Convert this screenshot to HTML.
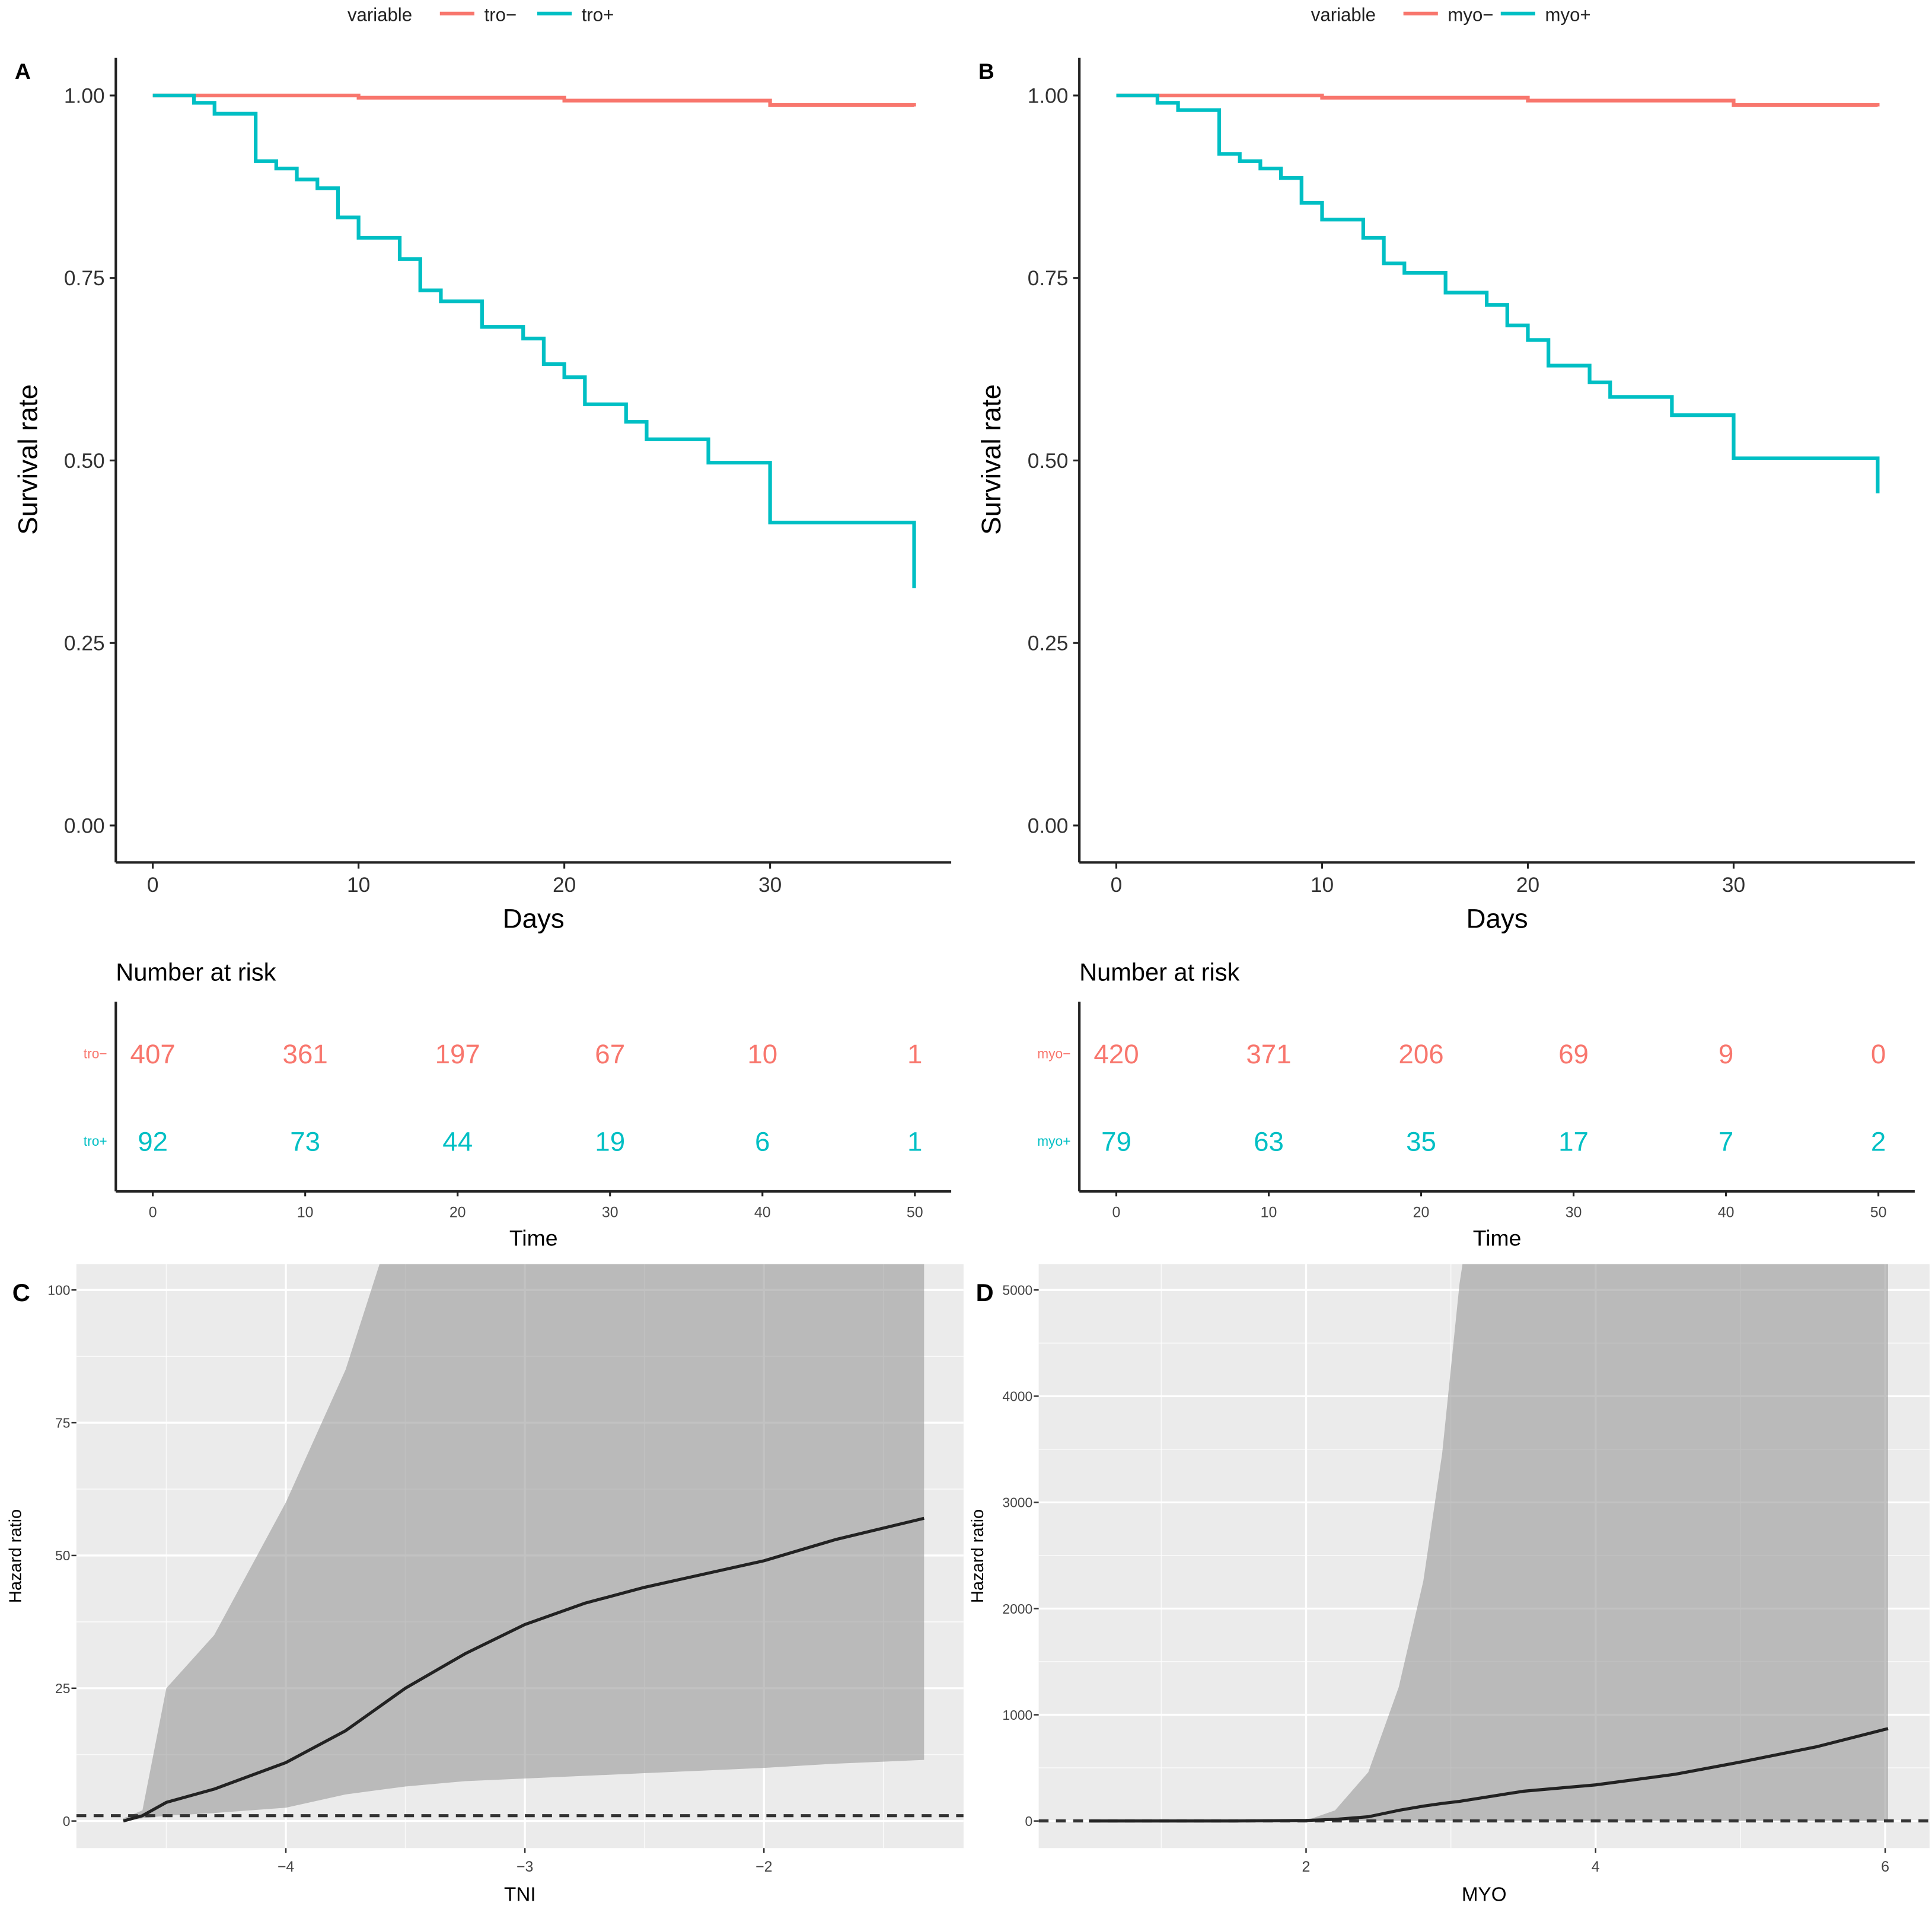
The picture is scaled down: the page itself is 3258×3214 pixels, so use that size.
<!DOCTYPE html>
<html><head><meta charset="utf-8"><style>
html,body{margin:0;padding:0;background:#fff;}
svg{display:block;font-family:"Liberation Sans",sans-serif;}
</style></head><body>
<svg id="fig" width="3258" height="3214" viewBox="0 0 1568 1547" preserveAspectRatio="none" xmlns="http://www.w3.org/2000/svg"></svg>
<script>
// ---- data ----
const kmTimesTroPos = [0,2,3,5,6,7,8,9,10,12,13,14,16,18,19,20,21,23,24,27,30,37];
const kmSurvTroPos  = [1,0.99,0.975,0.91,0.90,0.885,0.873,0.833,0.805,0.776,0.733,0.718,0.683,0.667,0.632,0.614,0.577,0.553,0.529,0.497,0.415,0.325];
const kmTimesTroNeg = [0,2,10,20,30,37];
const kmSurvTroNeg  = [1,1,0.997,0.993,0.987,0.985];
const kmTimesMyoPos = [0,2,3,5,6,7,8,9,10,12,13,14,16,18,19,20,21,23,24,27,30,37];
const kmSurvMyoPos  = [1,0.99,0.98,0.92,0.91,0.90,0.887,0.853,0.83,0.805,0.77,0.757,0.73,0.713,0.685,0.665,0.63,0.607,0.587,0.562,0.503,0.455];
const kmTimesMyoNeg = [0,2,10,20,30,37];
const kmSurvMyoNeg  = [1,1,0.997,0.993,0.987,0.985];
const yTicksKM = [0,0.25,0.5,0.75,1];
const yTickLabelsKM = ["0.00","0.25","0.50","0.75","1.00"];
const xTicksKM = [0,10,20,30];
const riskTimes = [0,10,20,30,40,50];
const riskTroNeg = [407,361,197,67,10,1];
const riskTroPos = [92,73,44,19,6,1];
const riskMyoNeg = [420,371,206,69,9,0];
const riskMyoPos = [79,63,35,17,7,2];
const tniX     = [-4.68,-4.6,-4.5,-4.3,-4.0,-3.75,-3.5,-3.25,-3.0,-2.75,-2.5,-2.25,-2.0,-1.7,-1.33];
const tniHR    = [0,1,3.5,6,11,17,25,31.5,37,41,44,46.5,49,53,57];
const tniUpper = [0.5,2,25,35,60,85,120,150,180,200,220,240,260,280,300];
const tniLower = [0,0.5,1,1.5,2.5,5,6.5,7.5,8,8.5,9,9.5,10,10.8,11.5];
const tniYTicks = [0,25,50,75,100];
const tniXTicks = [-4,-3,-2];
const myoX     = [0.5,1,1.5,2,2.2,2.43,2.64,2.81,2.94,3.06,3.5,4,4.55,5.02,5.53,6.02];
const myoHR    = [0,0,0,5,15,40,100,140,165,185,280,340,440,560,700,870];
const myoUpper = [0,0,0,5,100,460,1260,2260,3460,5060,9000,9000,9000,9000,9000,9000];
const myoLower = [0,0,0,0,0,0,0,0,0,0,0,0,0,0,0,0];
const myoYTicks = [0,1000,2000,3000,4000,5000];
const myoXTicks = [2,4,6];

const RED="#F8766D", CYAN="#00BFC4";
const svg=document.getElementById('fig');
const NS="http://www.w3.org/2000/svg";
function el(tag,attrs,parent){const e=document.createElementNS(NS,tag);for(const k in attrs)e.setAttribute(k,attrs[k]);(parent||svg).appendChild(e);return e;}
function txt(s,x,y,size,attrs,parent){const t=el('text',Object.assign({x:x,y:y,'font-size':size,fill:'#000'},attrs||{}),parent);t.textContent=s;return t;}

// ---- KM panels ----
function kmPanel(ox,letter,grpNeg,grpPos,tN,sN,tP,sP,rN,rP){
  const g=el('g',{});
  
  
  const xs=t=>ox+30+t*16.7, ys=v=>670-v*592.5;
  const lg=el('g',{},g);
  
  
  const lx=ox+188;
  txt('variable',lx,17,15,{fill:'#222'},lg);
  el('line',{x1:lx+75,x2:lx+103,y1:11,y2:11,stroke:RED,'stroke-width':3},lg);
  txt(grpNeg,lx+111,17,15,{fill:'#222'},lg);
  el('line',{x1:lx+154,x2:lx+182,y1:11,y2:11,stroke:CYAN,'stroke-width':3},lg);
  txt(grpPos,lx+190,17,15,{fill:'#222'},lg);
  txt(letter,ox-82,64,18,{'font-weight':'bold'},g);
  el('line',{x1:ox,x2:ox,y1:47,y2:700,stroke:'#222','stroke-width':2},g);
  el('line',{x1:ox,x2:ox+678,y1:700,y2:700,stroke:'#222','stroke-width':2},g);
  yTicksKM.forEach((v,i)=>{el('line',{x1:ox-5,x2:ox,y1:ys(v),y2:ys(v),stroke:'#222','stroke-width':1.5},g);
    txt(yTickLabelsKM[i],ox-9,ys(v)+6,17,{'text-anchor':'end',fill:'#333'},g);});
  xTicksKM.forEach(v=>{el('line',{x1:xs(v),x2:xs(v),y1:700,y2:705,stroke:'#222','stroke-width':1.5},g);
    txt(String(v),xs(v),724,17,{'text-anchor':'middle',fill:'#333'},g);});
  const yt=txt('Survival rate',0,0,22,{'text-anchor':'middle',transform:`translate(${ox-64},373) rotate(-90)`},g);
  
  txt('Days',ox+339,753,22,{'text-anchor':'middle'},g);
  function step(t,s,col,name){let d=`M${xs(t[0])},${ys(s[0])}`;for(let i=1;i<t.length;i++){d+=`H${xs(t[i])}V${ys(s[i])}`;}
    const p=el('path',{d:d,fill:'none',stroke:col,'stroke-width':3},g);}
  step(tN,sN,RED,'curve-'+grpNeg);
  step(tP,sP,CYAN,'curve-'+grpPos);
  const rx=t=>ox+30+t*12.37;
  txt('Number at risk',ox,796,20,{},g);
  el('line',{x1:ox,x2:ox,y1:813,y2:967,stroke:'#222','stroke-width':2},g);
  el('line',{x1:ox,x2:ox+678,y1:967,y2:967,stroke:'#222','stroke-width':2},g);
  [[855,grpNeg,RED,rN],[926,grpPos,CYAN,rP]].forEach(([y,lab,col,vals])=>{
    txt(lab,ox-7,y+4,11,{'text-anchor':'end',fill:col},g);
    vals.forEach((v,i)=>{const t=txt(String(v),rx(riskTimes[i]),y+8,22,{'text-anchor':'middle',fill:col},g);});
  });
  riskTimes.forEach(v=>{el('line',{x1:rx(v),x2:rx(v),y1:967,y2:971,stroke:'#222','stroke-width':1.5},g);
    txt(String(v),rx(v),988,12,{'text-anchor':'middle',fill:'#444'},g);});
  txt('Time',ox+339,1011,18,{'text-anchor':'middle'},g);
}
kmPanel(94,'A','tro\u2212','tro+',kmTimesTroNeg,kmSurvTroNeg,kmTimesTroPos,kmSurvTroPos,riskTroNeg,riskTroPos);
kmPanel(876,'B','myo\u2212','myo+',kmTimesMyoNeg,kmSurvMyoNeg,kmTimesMyoPos,kmSurvMyoPos,riskMyoNeg,riskMyoPos);

// ---- HR panels ----
function hrPanel(opt){
  const g=el('g',{});
  
  
  const {x0,x1,y0,y1}=opt.box;
  const xs=opt.xs, ys=opt.ys;
  el('rect',{x:x0,y:y0,width:x1-x0,height:y1-y0,fill:'#EBEBEB'},g);
  const cid='clip'+opt.letter;
  const cp=el('clipPath',{id:cid},g);el('rect',{x:x0,y:y0,width:x1-x0,height:y1-y0},cp);
  const gc=el('g',{'clip-path':`url(#${cid})`},g);
  opt.minorX.forEach(v=>el('line',{x1:xs(v),x2:xs(v),y1:y0,y2:y1,stroke:'#fff','stroke-width':0.8,opacity:0.7},gc));
  opt.minorY.forEach(v=>el('line',{x1:x0,x2:x1,y1:ys(v),y2:ys(v),stroke:'#fff','stroke-width':0.8,opacity:0.7},gc));
  opt.xt.forEach(v=>el('line',{x1:xs(v),x2:xs(v),y1:y0,y2:y1,stroke:'#fff','stroke-width':1.6},gc));
  opt.yt.forEach(v=>el('line',{x1:x0,x2:x1,y1:ys(v),y2:ys(v),stroke:'#fff','stroke-width':1.6},gc));
  let d='M'+opt.X.map((x,i)=>`${xs(x)},${ys(opt.U[i])}`).join('L');
  for(let i=opt.X.length-1;i>=0;i--)d+=`L${xs(opt.X[i])},${ys(opt.L[i])}`;
  const band=el('path',{d:d+'Z',fill:'#999',opacity:0.6},gc);
  
  
  const ref=el('line',{x1:x0,x2:x1,y1:ys(1),y2:ys(1),stroke:'#333','stroke-width':2.5,'stroke-dasharray':'8,6'},gc);
  
  const ln=el('path',{d:'M'+opt.X.map((x,i)=>`${xs(x)},${ys(opt.H[i])}`).join('L'),fill:'none',stroke:'#222','stroke-width':2.5,'stroke-linejoin':'round'},gc);
  
  
  opt.yt.forEach(v=>{el('line',{x1:x0-4,x2:x0,y1:ys(v),y2:ys(v),stroke:'#333','stroke-width':1.2},g);
    txt(String(v),x0-5,ys(v)+4,11,{'text-anchor':'end',fill:'#444'},g);});
  opt.xt.forEach(v=>{el('line',{x1:xs(v),x2:xs(v),y1:y1,y2:y1+4,stroke:'#333','stroke-width':1.2},g);
    txt(String(v).replace('-','\u2212'),xs(v),y1+19,12,{'text-anchor':'middle',fill:'#444'},g);});
  txt(opt.letter,opt.lx,1056,20,{'font-weight':'bold'},g);
  txt('Hazard ratio',0,0,14,{'text-anchor':'middle',transform:`translate(${x0-45},1263) rotate(-90)`},g);
  txt(opt.xlabel,(x0+x1)/2,1543,16,{'text-anchor':'middle'},g);
}
hrPanel({letter:'C',box:{x0:62,x1:782,y0:1026,y1:1500},
  xs:v=>232+(v+4)*194, ys:v=>1478-v*4.31,
  X:tniX,H:tniHR,U:tniUpper,L:tniLower,xt:tniXTicks,yt:tniYTicks,
  minorX:[-4.5,-3.5,-2.5,-1.5],minorY:[12.5,37.5,62.5,87.5],lx:10,xlabel:'TNI'});
hrPanel({letter:'D',box:{x0:843,x1:1566,y0:1026,y1:1500},
  xs:v=>1060+(v-2)*117.5, ys:v=>1478-v*0.0862,
  X:myoX,H:myoHR,U:myoUpper,L:myoLower,xt:myoXTicks,yt:myoYTicks,
  minorX:[1,3,5],minorY:[500,1500,2500,3500,4500],lx:792,xlabel:'MYO'});
</script>
</body></html>
